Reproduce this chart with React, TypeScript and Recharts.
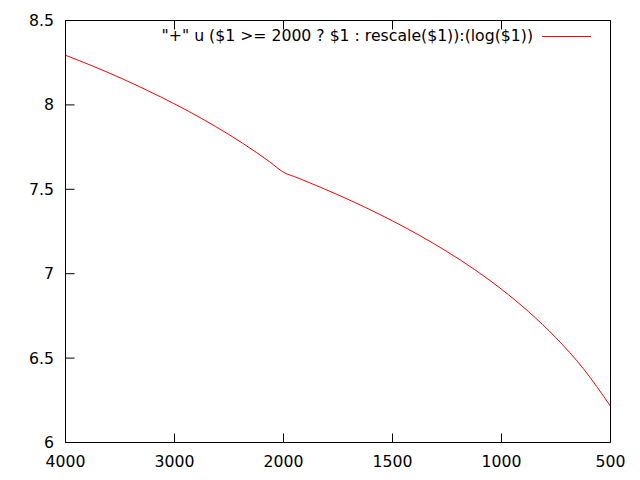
import React from 'react'
import {LineChart, Line, XAxis, YAxis} from 'recharts'

// sample x values ("+" special file) and log values
const xValues = [
  4000, 3750, 3500, 3250, 3000, 2750, 2500, 2250, 2125, 2000, 1937.5, 1875, 1750,
  1625, 1500, 1375, 1250, 1125, 1000, 875, 750, 625, 500,
]
const logValues = [
  8.294, 8.23, 8.161, 8.086, 8.006, 7.919, 7.824, 7.719, 7.662, 7.601, 7.569,
  7.536, 7.467, 7.393, 7.313, 7.226, 7.131, 7.026, 6.908, 6.774, 6.62, 6.438,
  6.215,
]
const xTickLabels = ['4000', '3000', '2000', '1500', '1000', '500']
const xTickPos = [0, 1, 2, 3, 4, 5]
const yTicks = [6, 6.5, 7, 7.5, 8, 8.5]
const legendLabel = '"+" u ($1 >= 2000 ? $1 : rescale($1)):(log($1))'

// axis position: linear above 2000, rescaled below
function axisPos(x: number) {
  return x >= 2000 ? (4000 - x) / 1000 : 2 + (2000 - x) / 500
}

const data = xValues.map((x, i) => ({pos: axisPos(x), y: logValues[i]}))

const FONT = '"DejaVu Sans", sans-serif'
const FS = 15.7
const TICK = 9
const INK = 'black'

function BottomTick(props: any) {
  const {x, y, payload} = props
  return (
    <g>
      <line x1={x} x2={x} y1={y} y2={y - TICK} stroke={INK} strokeWidth={1} />
      <text x={x} y={y + 24} textAnchor="middle" fontFamily={FONT} fontSize={FS} fill={INK}>
        {xTickLabels[Math.round(payload.value)]}
      </text>
    </g>
  )
}

function TopTick(props: any) {
  const {x, y} = props
  return <line x1={x} x2={x} y1={y} y2={y + TICK} stroke={INK} strokeWidth={1} />
}

function LeftTick(props: any) {
  const {x, y, payload} = props
  return (
    <g>
      <line x1={x} x2={x + TICK} y1={y} y2={y} stroke={INK} strokeWidth={1} />
      <text x={x - 11.5} y={y + 5.5} textAnchor="end" fontFamily={FONT} fontSize={FS} fill={INK}>
        {String(payload.value)}
      </text>
    </g>
  )
}

function RightTick(props: any) {
  const {x, y} = props
  return <line x1={x} x2={x - TICK} y1={y} y2={y} stroke={INK} strokeWidth={1} />
}

const axisLine = {stroke: INK, strokeWidth: 1}

export default function App() {
  return (
    <div style={{position: 'absolute', left: 0, top: 0, width: 640, height: 480}}>
      <LineChart
        width={640}
        height={480}
        data={data}
        margin={{top: 10.5, right: 19.5, bottom: 7.5, left: 15.5}}
      >
        <XAxis
          xAxisId="bottom"
          dataKey="pos"
          type="number"
          domain={[0, 5]}
          ticks={xTickPos}
          height={30}
          tickSize={0}
          tickMargin={0}
          tickLine={false}
          interval={0}
          axisLine={axisLine}
          tick={<BottomTick />}
        />
        <XAxis
          xAxisId="top"
          orientation="top"
          dataKey="pos"
          type="number"
          domain={[0, 5]}
          ticks={xTickPos}
          height={10}
          tickSize={0}
          tickMargin={0}
          tickLine={false}
          interval={0}
          axisLine={axisLine}
          tick={<TopTick />}
        />
        <YAxis
          yAxisId="left"
          type="number"
          domain={[6, 8.5]}
          ticks={yTicks}
          width={50}
          tickSize={0}
          tickMargin={0}
          tickLine={false}
          interval={0}
          axisLine={axisLine}
          tick={<LeftTick />}
        />
        <YAxis
          yAxisId="right"
          orientation="right"
          type="number"
          domain={[6, 8.5]}
          ticks={yTicks}
          width={10}
          tickSize={0}
          tickMargin={0}
          tickLine={false}
          interval={0}
          axisLine={axisLine}
          tick={<RightTick />}
        />
        <Line
          xAxisId="bottom"
          yAxisId="left"
          dataKey="y"
          type="monotone"
          stroke="#ff0000"
          strokeWidth={1}
          dot={false}
          activeDot={false}
          isAnimationActive={false}
        />
      </LineChart>
      {/* key, top right inside the frame */}
      <div
        style={{
          position: 'absolute',
          right: 107,
          top: 28.2,
          fontFamily: FONT,
          fontSize: FS,
          lineHeight: `${FS}px`,
          whiteSpace: 'pre',
          color: INK,
        }}
      >
        {legendLabel}
      </div>
      <div
        style={{
          position: 'absolute',
          left: 542,
          top: 36,
          width: 49,
          height: 1,
          background: '#ff0000',
        }}
      />
    </div>
  )
}
